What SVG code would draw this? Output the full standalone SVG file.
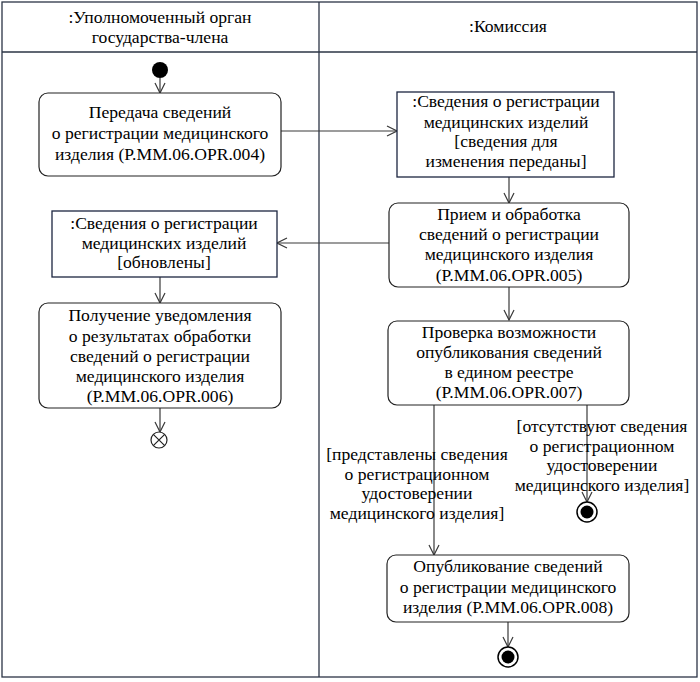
<svg xmlns="http://www.w3.org/2000/svg" width="700" height="682" viewBox="0 0 700 682">
<defs>
<style>
text{font-family:"Liberation Serif","Times New Roman",serif;font-size:17.6px;fill:#000;text-anchor:middle}
.lane{fill:none;stroke:#2b3445;stroke-width:1.3}
.act{fill:#fff;stroke:#222;stroke-width:1.2}
.obj{fill:#fff;stroke:#1c2640;stroke-width:1.3}
.flow{fill:none;stroke:#3a3a3a;stroke-width:1.2;marker-end:url(#arr)}
</style>
<marker id="arr" viewBox="0 0 12 12" refX="11" refY="6" markerWidth="12" markerHeight="12" markerUnits="userSpaceOnUse" orient="auto">
<path d="M1,1 L11,6 L1,11" fill="none" stroke="#3a3a3a" stroke-width="1.2"/>
</marker>
</defs>
<rect width="700" height="682" fill="#fff"/>
<g id="lanes">
<rect class="lane" x="2" y="2" width="695" height="675"/>
<line class="lane" x1="2" y1="52" x2="697" y2="52"/>
<line class="lane" x1="319" y1="2" x2="319" y2="677"/>
<text x="160" y="23">:Уполномоченный орган</text>
<text x="160" y="43">государства-члена</text>
<text x="508" y="32">:Комиссия</text>
</g>
<g id="connectors">
<line class="flow" x1="160" y1="78" x2="160" y2="93"/>
<line class="flow" x1="281" y1="131" x2="397" y2="131"/>
<line class="flow" x1="509" y1="177" x2="509" y2="203"/>
<line class="flow" x1="389" y1="243" x2="277" y2="243"/>
<line class="flow" x1="160" y1="277" x2="160" y2="303"/>
<line class="flow" x1="160" y1="408" x2="160" y2="432"/>
<line class="flow" x1="509" y1="287" x2="509" y2="320"/>
<line class="flow" x1="434" y1="405" x2="434" y2="555"/>
<line class="flow" x1="587" y1="405" x2="587" y2="502"/>
<line class="flow" x1="508" y1="622" x2="508" y2="647"/>
<g id="guard1">
<text x="417" y="460">[представлены сведения</text>
<text x="417" y="480">о регистрационном</text>
<text x="417" y="499">удостоверении</text>
<text x="417" y="519">медицинского изделия]</text>
</g>
<g id="guard2">
<text x="602" y="432">[отсутствуют сведения</text>
<text x="602" y="452">о регистрационном</text>
<text x="602" y="471">удостоверении</text>
<text x="602" y="491">медицинского изделия]</text>
</g>
</g>
<g id="start"><circle cx="160" cy="70" r="8" fill="#000"/></g>
<g id="n1">
<rect class="act" x="39" y="93" width="242" height="83" rx="9"/>
<text x="160" y="118">Передача сведений</text>
<text x="160" y="139">о регистрации медицинского</text>
<text x="160" y="160">изделия (P.MM.06.OPR.004)</text>
</g>
<g id="n2">
<rect class="obj" x="397" y="92" width="217" height="85"/>
<text x="506" y="107">:Сведения о регистрации</text>
<text x="506" y="128">медицинских изделий</text>
<text x="506" y="147">[сведения для</text>
<text x="506" y="167">изменения переданы]</text>
</g>
<g id="n3">
<rect class="act" x="389" y="203" width="240" height="84" rx="9"/>
<text x="509" y="220">Прием и обработка</text>
<text x="509" y="240">сведений о регистрации</text>
<text x="509" y="260">медицинского изделия</text>
<text x="509" y="281">(P.MM.06.OPR.005)</text>
</g>
<g id="n4">
<rect class="obj" x="52" y="211" width="225" height="66"/>
<text x="164" y="229">:Сведения о регистрации</text>
<text x="164" y="249">медицинских изделий</text>
<text x="164" y="268">[обновлены]</text>
</g>
<g id="n5">
<rect class="act" x="39" y="303" width="242" height="105" rx="9"/>
<text x="160" y="321">Получение уведомления</text>
<text x="160" y="342">о результатах обработки</text>
<text x="160" y="362">сведений о регистрации</text>
<text x="160" y="382">медицинского изделия</text>
<text x="160" y="402">(P.MM.06.OPR.006)</text>
</g>
<g id="flowfinal">
<circle cx="159" cy="440" r="8" fill="#fff" stroke="#222" stroke-width="1.2"/>
<path d="M153.3,434.3 L164.7,445.7 M164.7,434.3 L153.3,445.7" stroke="#222" stroke-width="1.2"/>
</g>
<g id="n6">
<rect class="act" x="388" y="321" width="241" height="84" rx="9"/>
<text x="509" y="338">Проверка возможности</text>
<text x="509" y="358">опубликования сведений</text>
<text x="509" y="378">в едином реестре</text>
<text x="509" y="398">(P.MM.06.OPR.007)</text>
</g>
<g id="end1">
<circle cx="587" cy="512" r="10" fill="#fff" stroke="#000" stroke-width="1.5"/>
<circle cx="587" cy="512" r="6.5" fill="#000"/>
</g>
<g id="n7">
<rect class="act" x="387" y="555" width="242" height="67" rx="9"/>
<text x="508" y="572">Опубликование сведений</text>
<text x="508" y="593">о регистрации медицинского</text>
<text x="508" y="613">изделия (P.MM.06.OPR.008)</text>
</g>
<g id="end2">
<circle cx="508" cy="657" r="10" fill="#fff" stroke="#000" stroke-width="1.5"/>
<circle cx="508" cy="657" r="6.5" fill="#000"/>
</g>
</svg>
